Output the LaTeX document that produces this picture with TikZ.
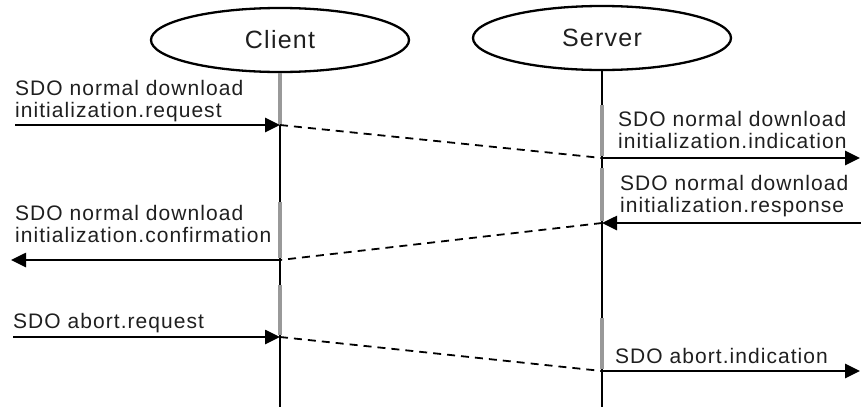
\documentclass[tikz,border=0pt]{standalone}
\usepackage{fontspec}
\setmainfont{Liberation Sans}[LetterSpace=5]
\usetikzlibrary{shapes.geometric,arrows.meta}
\begin{document}
\begin{tikzpicture}[x=1pt,y=-1pt,
  party/.style={draw, line width=2.3pt, ellipse, minimum width=258pt, minimum height=64pt,
    inner sep=0pt, font=\fontsize{25}{30}\selectfont, text=black!88},
  lifeline/.style={line width=2.5pt},
  active/.style={line width=3.5pt, draw=black!40},
  msg/.style={line width=2.6pt, -{Triangle[length=15pt,width=14pt]}},
  relay/.style={line width=1.8pt, dash pattern=on 8pt off 6pt},
  lbl/.style={anchor=base west, inner sep=0pt, font=\fontsize{21}{22}\selectfont,
    text=black!88, align=left},
]
\useasboundingbox (0,0) rectangle (861,407);

% parties
\node[party] (client) at (280,40) {Client};
\node[party] (server) at (602,38) {Server};

% points on the lifelines
\coordinate (cbot) at (280,407);
\coordinate (sbot) at (602,407);
\coordinate (c1) at (280,125);
\coordinate (s1) at (602,158);
\coordinate (s2) at (602,223);
\coordinate (c2) at (280,260);
\coordinate (c3) at (280,337);
\coordinate (s3) at (602,371);

% free ends of the service primitives
\coordinate (reqin) at (15,125);
\coordinate (indout) at (860,158);
\coordinate (resin) at (861,223);
\coordinate (conout) at (11,260);
\coordinate (abreqin) at (13,337);
\coordinate (abindout) at (860,371);

% lifelines
\draw[lifeline] (client.south) -- (cbot);
\draw[lifeline] (server.south) -- (sbot);

% activation segments (yshift is in page direction: positive = up)
\draw[active] (client.south) -- (c1);
\draw[active] ([yshift=58pt]c2) -- ([yshift=2pt]c2);
\draw[active] ([yshift=52pt]c3) -- ([yshift=2pt]c3);
\draw[active] ([yshift=53pt]s1) -- ([yshift=2pt]s1);
\draw[active] ([yshift=-10pt]s1) -- ([yshift=2pt]s2);
\draw[active] ([yshift=53pt]s3) -- ([yshift=2pt]s3);

% normal download initiation
\draw[msg] (reqin) -- (c1);
\draw[relay] (c1) -- (s1);
\draw[msg] (s1) -- (indout);
\draw[msg] (resin) -- (s2);
\draw[relay] (s2) -- (c2);
\draw[msg] (c2) -- (conout);

% abort
\draw[msg] (abreqin) -- (c3);
\draw[relay] (c3) -- (s3);
\draw[msg] (s3) -- (abindout);

% labels (anchored at the baseline of the last line)
\node[lbl] (lreq) at (15,117) {SDO normal download\\initialization.request};
\node[lbl] (lind) at (618,148) {SDO normal download\\initialization.indication};
\node[lbl] (lres) at (620,212) {SDO normal download\\initialization.response};
\node[lbl] (lcon) at (15,242) {SDO normal download\\initialization.confirmation};
\node[lbl] (labreq) at (13,328) {SDO abort.request};
\node[lbl] (labind) at (615,363) {SDO abort.indication};
\end{tikzpicture}
\end{document}
